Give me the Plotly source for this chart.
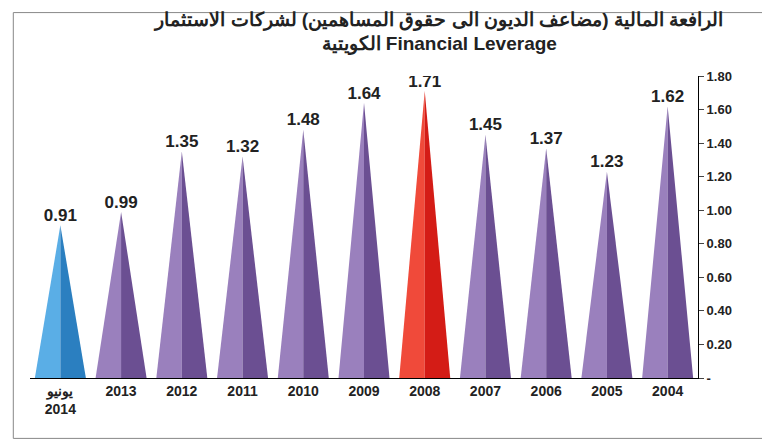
import plotly.graph_objects as go

categories = ["يونيو<br>2014", "2013", "2012", "2011", "2010", "2009", "2008", "2007", "2006", "2005", "2004"]
leverage = [0.91, 0.99, 1.35, 1.32, 1.48, 1.64, 1.71, 1.45, 1.37, 1.23, 1.62]
tick_vals = [0, 0.2, 0.4, 0.6, 0.8, 1.0, 1.2, 1.4, 1.6, 1.8]
tick_text = ["-", "0.20", "0.40", "0.60", "0.80", "1.00", "1.20", "1.40", "1.60", "1.80"]

# light / dark shades for left and right halves of each cone
purple = ("#9a80bd", "#6b4f92")
blue = ("#5aaee6", "#2b7fc0")
red = ("#f04a3a", "#d41c16")

fig = go.Figure()
half = 0.42
for i, (cat, v) in enumerate(zip(categories, leverage)):
    col = blue if i == 0 else (red if cat == "2008" else purple)
    # left half
    fig.add_trace(go.Scatter(x=[i - half, i, i, i - half], y=[0, v, 0, 0], fill="toself",
                             fillcolor=col[0], line=dict(width=0), mode="lines",
                             hoverinfo="skip", showlegend=False))
    # right half
    fig.add_trace(go.Scatter(x=[i, i + half, i, i], y=[v, 0, 0, v], fill="toself",
                             fillcolor=col[1], line=dict(width=0), mode="lines",
                             hoverinfo="skip", showlegend=False))

fig.add_trace(go.Scatter(x=list(range(len(leverage))), y=leverage, mode="text",
                         text=[f"<b>{v:.2f}</b>" for v in leverage], textposition="top center",
                         textfont=dict(size=17, color="#222"),
                         showlegend=False, hoverinfo="skip"))

fig.update_layout(
    width=770, height=439,
    margin=dict(l=22, r=80, t=68, b=69),
    plot_bgcolor="white", paper_bgcolor="white",
    font=dict(family="Liberation Sans, Arial", color="#222"),
    title=dict(text="<b>الرافعة المالية (مضاعف الديون الى حقوق المساهمين) لشركات الاستثمار<br>الكويتية Financial Leverage</b>",
               x=0.56, xanchor="center", y=0.96, font=dict(size=19, color="#222")),
    xaxis=dict(range=[-0.5, len(leverage) - 0.5], tickvals=list(range(len(leverage))),
               ticktext=[f"<b>{c}</b>" for c in categories], tickfont=dict(size=14),
               showline=True, linecolor="black", showgrid=False, zeroline=False,
               ticks="outside", ticklen=0),
    yaxis=dict(range=[0, 1.8], side="right", tickvals=tick_vals, ticktext=[f"<b>{t}</b>" for t in tick_text],
               tickfont=dict(size=13), showline=True, linecolor="black", ticks="outside",
               ticklen=5, showgrid=False, zeroline=False),
    shapes=[dict(type="rect", xref="paper", yref="paper", x0=-0.025, x1=1.105, y0=-0.2, y1=1.21,
                 line=dict(color="#888", width=1))],
)

fig.write_html("out.html")
